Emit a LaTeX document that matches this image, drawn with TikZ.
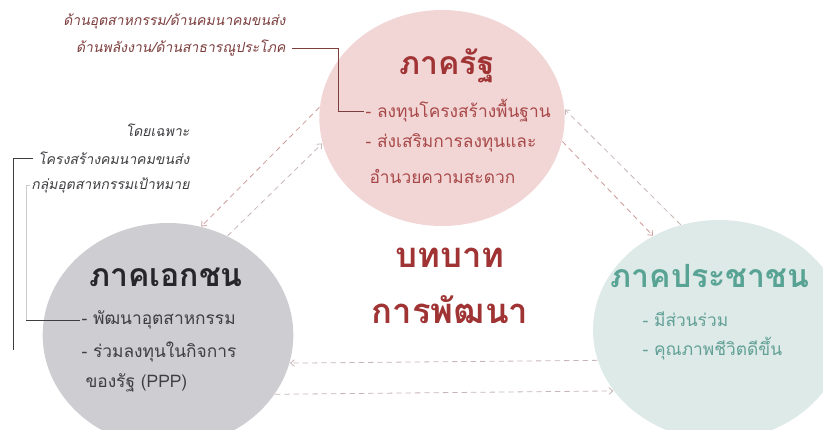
\documentclass[tikz,border=0pt]{standalone}
\usepackage{fontspec}
\setmainfont{Loma}[Script=Thai]
\newfontfamily\thaiit[Script=Thai,FakeSlant=0.2]{Loma}
\usetikzlibrary{shapes.geometric,arrows.meta}

\definecolor{statefill}{RGB}{242,214,214}
\definecolor{privfill}{RGB}{206,206,210}
\definecolor{peoplefill}{RGB}{221,234,232}
\definecolor{statered}{RGB}{160,52,52}
\definecolor{stateitem}{RGB}{168,72,72}
\definecolor{annored}{RGB}{125,62,62}
\definecolor{privdark}{RGB}{38,38,44}
\definecolor{privitem}{RGB}{62,62,66}
\definecolor{teal}{RGB}{88,163,148}
\definecolor{tealitem}{RGB}{98,160,150}
\definecolor{flowpink}{RGB}{204,156,156}
\definecolor{flowgray}{RGB}{198,182,182}

\tikzset{every picture/.style={line width=0.75pt}}

\begin{document}
\begin{tikzpicture}[x=0.75pt,y=0.75pt,yscale=-1,xscale=1,
  blob/.style={ellipse,inner sep=0pt,draw=none},
  bigtitle/.style={inner sep=0.75pt,font=\bfseries\fontsize{24}{28}\selectfont},
  roletext/.style={inner sep=0.75pt,font=\bfseries\fontsize{26}{30}\selectfont},
  item/.style={anchor=west,inner sep=0.75pt,font=\fontsize{13}{15}\selectfont},
  anno/.style={anchor=east,inner sep=0.75pt,font=\thaiit\fontsize{10.5}{13}\selectfont},
  flow/.style={dash pattern=on 4pt off 3pt,line width=0.6pt,-{Straight Barb[length=3pt,width=5pt]}},
  tick/.style={line width=0.6pt}]
\useasboundingbox (0,0) rectangle (823,429);
\clip (0,0) rectangle (823,429);

%Shape: Ellipse [state]
\node[blob,fill=statefill,minimum width=184pt,minimum height=162pt] (state) at (442,118) {};
%Shape: Ellipse [private]
\node[blob,fill=privfill,minimum width=188pt,minimum height=168pt] (priv) at (168,335) {};
%Shape: Ellipse [people]
\node[blob,fill=peoplefill,minimum width=189pt,minimum height=165pt] (people) at (719,330) {};

%Dashed Lines
\draw[flow,flowpink] (state.175) -- (priv.73);
\draw[flow,flowgray] (priv.59) -- (state.192);
\draw[flow,flowgray] (people.110) -- (state.4);
\draw[flow,flowpink] (state.349) -- (people.125);
\draw[flow,flowgray] (people.194) -- (priv.347);
\draw[flow,flowgray] (priv.331) -- (people.210);

% Text Node
\node[bigtitle,text=statered] (stateTitle) at (447,66) {ภาครัฐ};
% Text Node
\node[item,text=stateitem] (stateItemA) at (364,111) {- ลงทุนโครงสร้างพื้นฐาน};
% Text Node
\node[item,text=stateitem] (stateItemB) at (364,143) {- ส่งเสริมการลงทุนและ};
% Text Node
\node[item,text=stateitem] (stateItemC) at (368,176) {อำนวยความสะดวก};
% Text Node
\node[anno,text=annored] (stateAnnoA) at (287,21) {ด้านอุตสาหกรรม/ด้านคมนาคมขนส่ง};
% Text Node
\node[anno,text=annored] (stateAnnoB) at (287,48) {ด้านพลังงาน/ด้านสาธารณูประโภค};

% Text Node
\node[bigtitle,text=privdark] (privTitle) at (166,277) {ภาคเอกชน};
% Text Node
\node[item,text=privitem] (privItemA) at (80,320) {- พัฒนาอุตสาหกรรม};
% Text Node
\node[item,text=privitem] (privItemB) at (80,352) {- ร่วมลงทุนในกิจการ};
% Text Node
\node[item,text=privitem] (privItemC) at (84,383) {ของรัฐ (PPP)};
% Text Node
\node[anno,text=privitem] (privAnnoA) at (191,130) {โดยเฉพาะ};
% Text Node
\node[anno,text=privitem] (privAnnoB) at (191,158) {โครงสร้างคมนาคมขนส่ง};
% Text Node
\node[anno,text=privitem] (privAnnoC) at (191,185) {กลุ่มอุตสาหกรรมเป้าหมาย};

% Text Node
\node[bigtitle,text=teal] (peopleTitle) at (710,276) {ภาคประชาชน};
% Text Node
\node[item,text=tealitem] (peopleItemA) at (641,319) {- มีส่วนร่วม};
% Text Node
\node[item,text=tealitem] (peopleItemB) at (641,349) {- คุณภาพชีวิตดีขึ้น};

% Text Node
\node[roletext,text=statered] (roleA) at (450,258) {บทบาท};
% Text Node
\node[roletext,text=statered] (roleB) at (450,310) {การพัฒนา};

%Connector Lines
\coordinate (privEnd) at (13,350);
\coordinate (privBend) at (26,320);
\draw[tick,annored] ([xshift=4pt]stateAnnoB.east) -- ++(46,0) |- (stateItemA.west);
\draw[tick,privitem] ([xshift=-3pt]privAnnoB.west) -| (privEnd);
\draw[tick,gray!40] (privAnnoC.west) -| (privBend);
\draw[tick,privitem] (privBend) -- (privItemA.west);

\end{tikzpicture}
\end{document}
